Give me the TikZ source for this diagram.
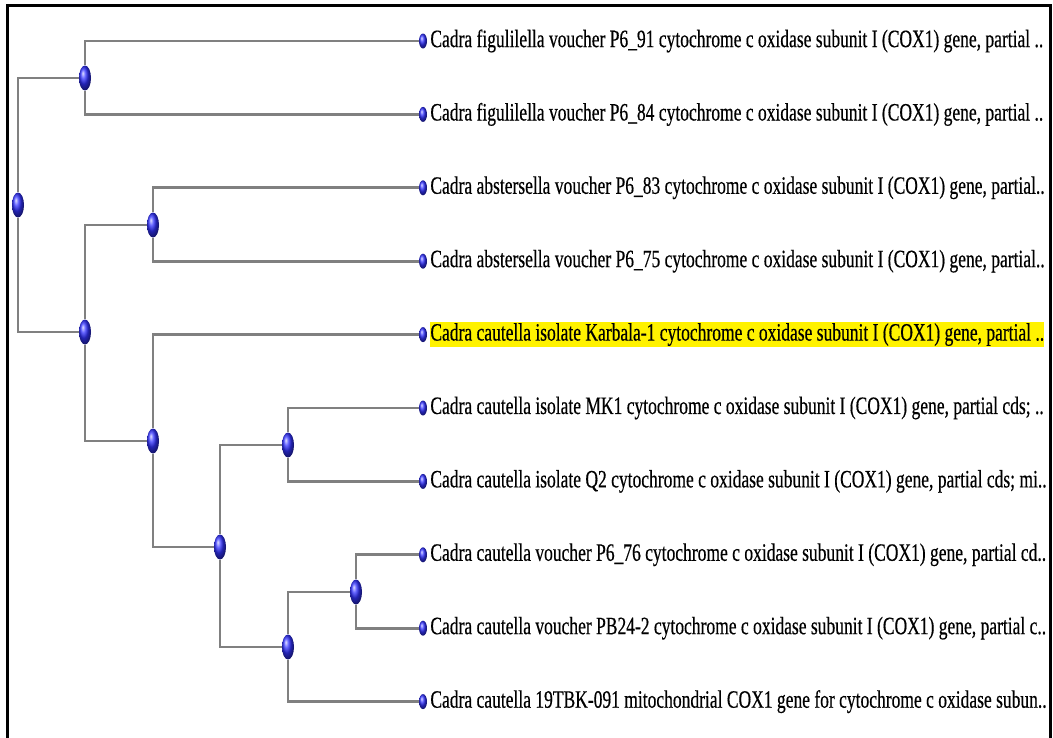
\documentclass[tikz,border=0pt]{standalone}
\usepackage{fontspec}
\newfontfamily\leaffont[FakeStretch=0.70,FakeBold=0.4]{Liberation Serif}
\usetikzlibrary{shapes,backgrounds,positioning}
\definecolor{nodeblue}{RGB}{50,50,255}
\tikzstyle{inner}=[ellipse,shade,ball color=nodeblue,minimum width=12pt,
                   minimum height=25pt,inner sep=0pt]
\tikzstyle{leaf}=[ellipse,shade,ball color=nodeblue,minimum width=8pt,
                  minimum height=15pt,inner sep=0pt]
\tikzstyle{taxon}=[inner sep=0pt,font=\leaffont\fontsize{25}{27}\selectfont]
\tikzstyle{branch}=[draw=black!50,line width=2.8pt]

\begin{document}
\begin{tikzpicture}[x=1pt,y=-1pt,node distance=73.4pt]
  \useasboundingbox (0,0) rectangle (1053,737);

	% leaves
	\node[leaf] (l1) at (423,41) {};
	\node[leaf] (l2) [below of=l1] {};
	\node[leaf] (l3) [below of=l2] {};
	\node[leaf] (l4) [below of=l3] {};
	\node[leaf] (l5) [below of=l4] {};
	\node[leaf] (l6) [below of=l5] {};
	\node[leaf] (l7) [below of=l6] {};
	\node[leaf] (l8) [below of=l7] {};
	\node[leaf] (l9) [below of=l8] {};
	\node[leaf] (l10) [below of=l9] {};

	\node[taxon] (t1) [right=3pt of l1] {Cadra figulilella voucher P6\_91 cytochrome c oxidase subunit I (COX1) gene, partial ..};
	\node[taxon] (t2) [right=3pt of l2] {Cadra figulilella voucher P6\_84 cytochrome c oxidase subunit I (COX1) gene, partial ..};
	\node[taxon] (t3) [right=3pt of l3] {Cadra abstersella voucher P6\_83 cytochrome c oxidase subunit I (COX1) gene, partial..};
	\node[taxon] (t4) [right=3pt of l4] {Cadra abstersella voucher P6\_75 cytochrome c oxidase subunit I (COX1) gene, partial..};
	\node[taxon,fill=yellow,inner ysep=1.5pt] (t5) [right=3pt of l5] {Cadra cautella isolate Karbala-1 cytochrome c oxidase subunit I (COX1) gene, partial ..};
	\node[taxon] (t6) [right=3pt of l6] {Cadra cautella isolate MK1 cytochrome c oxidase subunit I (COX1) gene, partial cds; ..};
	\node[taxon] (t7) [right=3pt of l7] {Cadra cautella isolate Q2 cytochrome c oxidase subunit I (COX1) gene, partial cds; mi..};
	\node[taxon] (t8) [right=3pt of l8] {Cadra cautella voucher P6\_76 cytochrome c oxidase subunit I (COX1) gene, partial cd..};
	\node[taxon] (t9) [right=3pt of l9] {Cadra cautella voucher PB24-2 cytochrome c oxidase subunit I (COX1) gene, partial c..};
	\node[taxon] (t10) [right=3pt of l10] {Cadra cautella 19TBK-091 mitochondrial COX1 gene for cytochrome c oxidase subun..};

	% internal nodes
	\node[inner] (root) at (18,205) {};
	\node[inner] (A) at (85,78) {};
	\node[inner] (B) at (85,332) {};
	\node[inner] (C) at (153,225) {};
	\node[inner] (D) at (153,441) {};
	\node[inner] (E) at (220,547) {};
	\node[inner] (F) at (288,445) {};
	\node[inner] (G) at (288,647) {};
	\node[inner] (H) at (356,592) {};

  \begin{scope}[on background layer]
  \fill[white] (0,0) rectangle (1053,737);
  \path [branch] (root) |- (A);
  \path [branch] (root) |- (B);
  \path [branch] (A) |- (l1);
  \path [branch] (A) |- (l2);
  \path [branch] (B) |- (C);
  \path [branch] (B) |- (D);
  \path [branch] (C) |- (l3);
  \path [branch] (C) |- (l4);
  \path [branch] (D) |- (l5);
  \path [branch] (D) |- (E);
  \path [branch] (E) |- (F);
  \path [branch] (E) |- (G);
  \path [branch] (F) |- (l6);
  \path [branch] (F) |- (l7);
  \path [branch] (G) |- (H);
  \path [branch] (G) |- (l10);
  \path [branch] (H) |- (l8);
  \path [branch] (H) |- (l9);
  \end{scope}

  % frame
  \draw[line width=3pt] (7,740) -- (7,5) -- (1050,5) -- (1050,740);
\end{tikzpicture}
\end{document}
